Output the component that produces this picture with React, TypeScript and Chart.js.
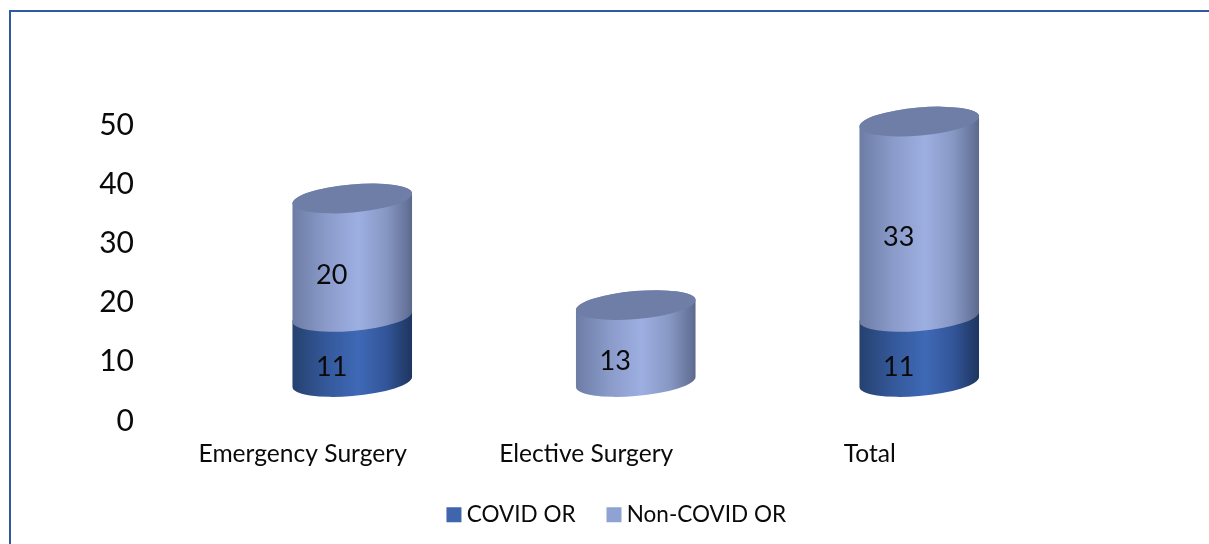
import React, { useEffect, useRef } from "react";
import { Chart, registerables } from "chart.js";

Chart.register(...registerables);

const categories = ["Emergency Surgery", "Elective Surgery", "Total"];
const covidOR: (number | null)[] = [11, null, 11];
const nonCovidOR = [20, 13, 33];
const yTickStep = 10;
const yMax = 50;

const FONT = "Lato, Carlito, Calibri, sans-serif";
const DEPTH_X = 49.5;
const DEPTH_Y = -39;
const LABEL_X = 29;
const LABEL_Y = -21;
const TILT = (-5 * Math.PI) / 180;
const RY = 14;

const palette = [
  { stops: ["#25416f", "#34589a", "#3f69b6", "#33569a", "#223c6b", "#1f3560"], cap: "#3f5c92" },
  { stops: ["#6c7ca4", "#8a9bca", "#9dafe1", "#8798c4", "#67759c", "#5b688a"], cap: "#6e7ea6" },
];
const stopAt = [0, 0.28, 0.55, 0.78, 0.95, 1];

const cylinders = {
  id: "cylinders",
  beforeDatasetDraw() {
    return false;
  },
  afterDatasetsDraw(chart: any) {
    const ctx = chart.ctx;
    const n = chart.data.labels.length;
    for (let i = 0; i < n; i++) {
      let topCap: any = null;
      chart.data.datasets.forEach((ds: any, d: number) => {
        if (ds.data[i] == null) return;
        const el = chart.getDatasetMeta(d).data[i];
        const cx = el.x + DEPTH_X;
        const rx = el.width / 2;
        const yTop = el.y + DEPTH_Y;
        const yBase = el.base + DEPTH_Y;
        const t0 = Math.atan(-(RY / rx) * Math.tan(TILT));
        const g = ctx.createLinearGradient(cx - rx, 0, cx + rx, 0);
        palette[d].stops.forEach((c, k) => g.addColorStop(stopAt[k], c));
        ctx.save();
        ctx.fillStyle = g;
        ctx.beginPath();
        ctx.ellipse(cx, yBase, rx, RY, TILT, t0, t0 + Math.PI, false);
        ctx.ellipse(cx, yTop, rx, RY, TILT, t0 + Math.PI, t0 + 2 * Math.PI, false);
        ctx.closePath();
        ctx.fill();
        ctx.restore();
        topCap = { cx, rx, yTop, color: palette[d].cap };
      });
      if (topCap) {
        ctx.save();
        ctx.fillStyle = topCap.color;
        ctx.beginPath();
        ctx.ellipse(topCap.cx, topCap.yTop, topCap.rx, RY, TILT, 0, 2 * Math.PI);
        ctx.fill();
        ctx.restore();
      }
    }
    ctx.save();
    ctx.font = `27px ${FONT}`;
    ctx.fillStyle = "#0a0a0a";
    ctx.textAlign = "center";
    ctx.textBaseline = "middle";
    chart.data.datasets.forEach((ds: any, d: number) => {
      chart.getDatasetMeta(d).data.forEach((el: any, i: number) => {
        if (ds.data[i] == null) return;
        ctx.fillText(String(ds.data[i]), el.x + LABEL_X, (el.y + el.base) / 2 + LABEL_Y);
      });
    });
    ctx.restore();
  },
  afterLayout(chart: any) {
    const l = chart.legend;
    l.left += 113.5;
    l.right += 113.5;
    l.top -= 8;
    l.bottom -= 8;
  },
};

export default function App() {
  const ref = useRef<HTMLCanvasElement>(null);
  useEffect(() => {
    const chart = new Chart(ref.current!, {
      type: "bar",
      data: {
        labels: categories,
        datasets: [
          { label: "COVID OR", data: covidOR, backgroundColor: "#3f66ad", barThickness: 120 },
          { label: "Non-COVID OR", data: nonCovidOR, backgroundColor: "#8fa2d4", barThickness: 120 },
        ],
      },
      options: {
        responsive: false,
        animation: false,
        layout: { padding: { top: 125, left: 0, right: 197.5, bottom: 0 } },
        plugins: {
          tooltip: { enabled: false },
          legend: {
            position: "bottom",
            labels: {
              font: { family: FONT, size: 22.5 },
              color: "#0a0a0a",
              usePointStyle: true,
              pointStyle: "rect",
              boxWidth: 3,
              boxHeight: 15,
              padding: 37,
            },
          },
        },
        scales: {
          x: {
            stacked: true,
            grid: { display: false, drawTicks: false },
            border: { display: false },
            ticks: {
              font: { family: FONT, size: 24.6 },
              color: "#0a0a0a",
              padding: 18,
              maxRotation: 0,
            },
            afterFit(s: any) {
              s.height = 123 - s.chart.legend.height;
            },
          },
          y: {
            stacked: true,
            min: 0,
            max: yMax,
            grid: { display: false, drawTicks: false },
            border: { display: false },
            ticks: {
              stepSize: yTickStep,
              font: { family: FONT, size: 30 },
              color: "#0a0a0a",
              padding: 27,
            },
            afterFit(s: any) {
              s.width = 161;
            },
          },
        },
      },
      plugins: [cylinders],
    } as any);
    return () => chart.destroy();
  }, []);
  return (
    <div style={{ position: "fixed", left: 0, top: 0, width: 1209, height: 544, overflow: "hidden", background: "#fff" }}>
      <canvas ref={ref} width={1209} height={544} style={{ position: "absolute", left: 0, top: 0, display: "block" }} />
      <div
        style={{
          position: "absolute",
          left: 9,
          top: 10,
          width: 1400,
          height: 800,
          borderTop: "2px solid #2f5aa0",
          borderLeft: "2px solid #2f5aa0",
          pointerEvents: "none",
        }}
      />
    </div>
  );
}
